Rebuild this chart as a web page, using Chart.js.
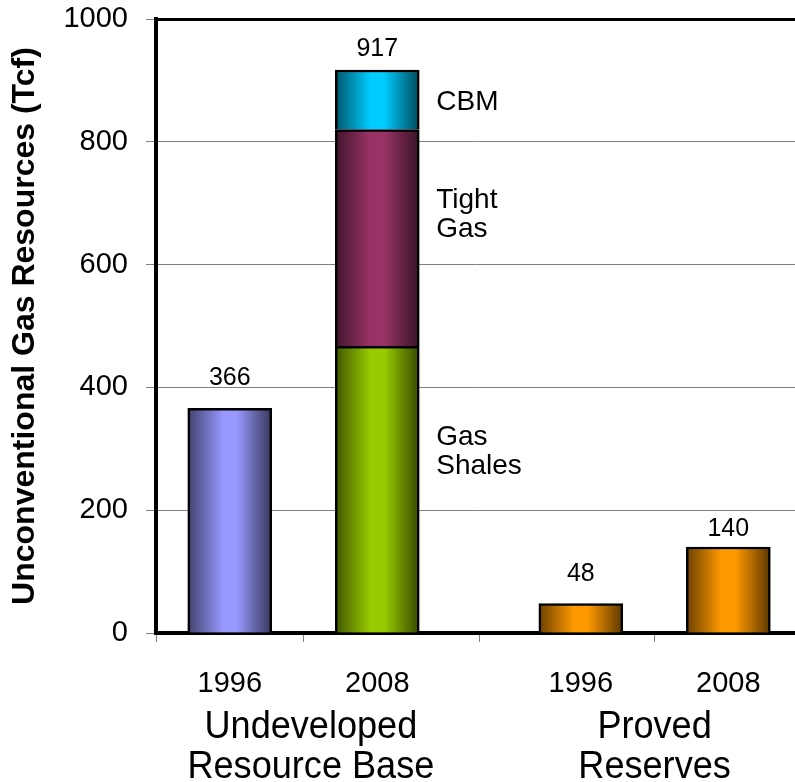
<!DOCTYPE html>
<html>
<head>
<meta charset="utf-8">
<script src="https://cdn.jsdelivr.net/npm/chart.js@4/dist/chart.umd.min.js"></script>
<style>
  html, body { margin: 0; padding: 0; background: #ffffff; }
  #wrap { width: 795px; height: 782px; }
</style>
</head>
<body>
<div id="wrap"><canvas id="c" width="795" height="782"></canvas></div>
<script>
// ---- data ----
const yearLabels = ['1996', '2008', '1996', '2008'];
const groupLabels = [['Undeveloped', 'Resource Base'], ['Proved', 'Reserves']];
const undeveloped1996 = [366];
const plays = ['Gas Shales', 'Tight Gas', 'CBM'];
const undeveloped2008 = [467, 353, 97];   // stacked, total 917
const provedReserves = [48, 140];          // 1996, 2008
const yTickValues = [0, 200, 400, 600, 800, 1000];

// ---- layout along the linear x axis (slot units) ----
const slots = [0.5, 1.5, 2.88, 3.88];       // bar centres
const tickBounds = [0, 1, 2.19, 3.38];       // small tick marks under the axis
const groupAt = [1.05, 3.38];               // group caption centres
const xMax = 4.332;
const labelLift = [23, 14, 23, 11];          // gap between value label baseline and bar top (px)
const playLabelAt = [306, 692, 852];         // first-line baseline of each play name (in Tcf)

const FONT = '"Liberation Sans", Arial, Helvetica, sans-serif';

function shade(hex, f) {
  const n = parseInt(hex.slice(1), 16);
  const r = Math.round(((n >> 16) & 255) * f);
  const g = Math.round(((n >> 8) & 255) * f);
  const b = Math.round((n & 255) * f);
  return `rgb(${r},${g},${b})`;
}

const barCommon = {
  borderColor: '#000000',
  borderWidth: 2.5,
  barThickness: 84,
};

const datasets = [
  Object.assign({
    label: 'Undeveloped 1996',
    data: undeveloped1996.map(v => ({ x: slots[0], y: v })),
    backgroundColor: '#9999ff',
  }, barCommon),
  Object.assign({
    label: plays[0],
    data: [{ x: slots[1], y: undeveloped2008[0] }],
    backgroundColor: '#99cc00',
  }, barCommon),
  Object.assign({
    label: plays[1],
    data: [{ x: slots[1], y: undeveloped2008[1] }],
    backgroundColor: '#993366',
  }, barCommon),
  Object.assign({
    label: plays[2],
    data: [{ x: slots[1], y: undeveloped2008[2] }],
    backgroundColor: '#00ccff',
  }, barCommon),
  Object.assign({
    label: 'Proved Reserves',
    data: provedReserves.map((v, i) => ({ x: slots[2 + i], y: v })),
    backgroundColor: '#ff9900',
  }, barCommon),
];

// horizontal "cylinder" shading across each bar, built once bar geometry is known
const barShading = {
  id: 'barShading',
  beforeDatasetsDraw(chart) {
    const c = chart.ctx;
    chart.data.datasets.forEach((ds, di) => {
      const base = ds.backgroundColor;
      chart.getDatasetMeta(di).data.forEach((el) => {
        const half = el.width / 2;
        if (!isFinite(el.x) || !isFinite(half)) return;
        const g = c.createLinearGradient(el.x - half, 0, el.x + half, 0);
        g.addColorStop(0, shade(base, 0.42));
        g.addColorStop(0.42, base);
        g.addColorStop(0.58, base);
        g.addColorStop(1, shade(base, 0.36));
        // each bar gets its own options object so gradients are not shared
        el.options = Object.assign({}, el.options, { backgroundColor: g });
      });
    });
  }
};

// value labels, play names, year labels and group captions
const annotations = {
  id: 'annotations',
  afterDatasetsDraw(chart) {
    const c = chart.ctx;
    const xs = chart.scales.x;
    const ys = chart.scales.y;
    c.save();
    c.fillStyle = '#000000';

    // totals above bars
    const tops = [
      { el: chart.getDatasetMeta(0).data[0], v: undeveloped1996[0] },
      { el: chart.getDatasetMeta(3).data[0], v: undeveloped2008.reduce((a, b) => a + b, 0) },
      { el: chart.getDatasetMeta(4).data[0], v: provedReserves[0] },
      { el: chart.getDatasetMeta(4).data[1], v: provedReserves[1] },
    ];
    c.font = '25px ' + FONT;
    c.textAlign = 'center';
    c.textBaseline = 'alphabetic';
    tops.forEach((t, i) => {
      c.fillText(String(t.v), t.el.x, t.el.y - labelLift[i]);
    });

    // play names beside the stacked bar
    const stackEl = chart.getDatasetMeta(1).data[0];
    const lx = stackEl.x + stackEl.width / 2 + 17;
    c.font = '28px ' + FONT;
    c.textAlign = 'left';
    plays.forEach((name, i) => {
      const words = name.split(' ');
      const y0 = ys.getPixelForValue(playLabelAt[i]);
      words.forEach((w, k) => c.fillText(w, lx, y0 + k * 29));
    });

    // year labels under each bar
    c.font = '29px ' + FONT;
    c.textAlign = 'center';
    yearLabels.forEach((t, i) => {
      c.fillText(t, xs.getPixelForValue(slots[i]), 692);
    });

    // group captions
    c.font = '38px ' + FONT;
    groupLabels.forEach((lines, gi) => {
      const gx = xs.getPixelForValue(groupAt[gi]);
      lines.forEach((line, k) => {
        c.save();
        c.translate(gx, 738 + k * 40);
        c.scale(0.95, 1);
        c.fillText(line, 0, 0);
        c.restore();
      });
    });
    c.restore();
  }
};

new Chart(document.getElementById('c'), {
  type: 'bar',
  data: { datasets },
  plugins: [barShading, annotations],
  options: {
    responsive: false,
    animation: false,
    events: [],
    layout: { padding: { top: 19, right: 0, left: 0, bottom: 0 } },
    plugins: {
      legend: { display: false },
      tooltip: { enabled: false },
    },
    scales: {
      x: {
        type: 'linear',
        stacked: true,
        offset: false,
        min: 0,
        max: xMax,
        afterBuildTicks: (scale) => { scale.ticks = tickBounds.map(v => ({ value: v })); },
        afterFit: (scale) => {
          scale.height = 149;
          scale.paddingLeft = 0;
          scale.paddingRight = 0;
        },
        ticks: { display: false },
        grid: {
          display: true,
          offset: false,
          drawOnChartArea: false,
          drawTicks: true,
          tickLength: 9,
          color: '#808080',
          tickColor: '#808080',
          lineWidth: 1,
        },
        border: { display: true, color: '#000000', width: 4 },
      },
      y: {
        stacked: true,
        min: 0,
        max: 1000,
        afterBuildTicks: (scale) => { scale.ticks = yTickValues.map(v => ({ value: v })); },
        afterFit: (scale) => {
          scale.width = 156;
          scale.paddingTop = 0;
          scale.paddingBottom = 0;
        },
        ticks: {
          color: '#000000',
          font: { family: FONT, size: 29 },
          padding: 18,
          callback: (v) => String(v),
        },
        grid: {
          color: (ctx) => (ctx.tick && ctx.tick.value === 1000 ? '#000000' : '#808080'),
          lineWidth: (ctx) => (ctx.tick && ctx.tick.value === 1000 ? 3 : 1),
          tickColor: '#808080',
          tickWidth: 1,
          tickLength: 10,
        },
        border: { display: true, color: '#000000', width: 4 },
        title: {
          display: true,
          text: 'Unconventional Gas Resources (Tcf)',
          color: '#000000',
          font: { family: FONT, size: 32, weight: 'bold' },
          padding: { top: 6, bottom: 0 },
        },
      },
    },
  },
});
</script>
</body>
</html>
